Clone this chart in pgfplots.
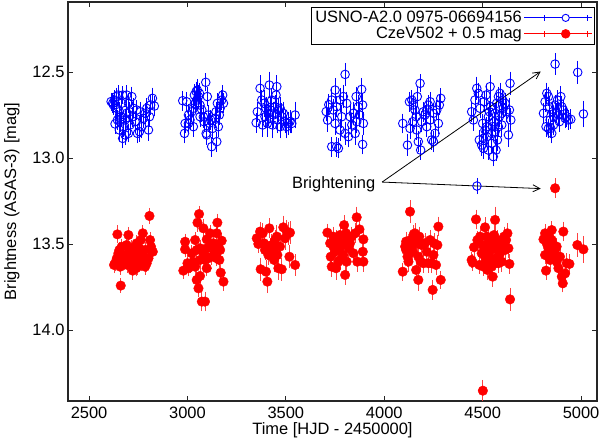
\documentclass[border=0pt]{standalone}
\usepackage{fontspec}
\setmainfont{Liberation Sans}
\usepackage{pgfplots}
\pgfplotsset{compat=1.18}
\usetikzlibrary{arrows.meta}
\newcommand{\chfont}{\fontsize{16.5}{19}\selectfont}
\begin{document}
\begin{tikzpicture}
\begin{axis}[
  at={(0,0)}, anchor=south west,
  scale only axis, width=529bp, height=399bp,
  xmin=2393, xmax=5081, ymin=12.093, ymax=14.413, y dir=reverse,
  xtick={2500,3000,3500,4000,4500,5000},
  ytick={12.5,13,13.5,14},
  xtick pos=both, ytick pos=both, tick align=inside,
  major tick length=5bp,
  axis line style={line width=1.2bp, black!85},
  every tick/.style={line width=0.8bp, black!85},
  /pgf/number format/assume math mode=true,
  /pgf/number format/1000 sep={},
  scaled x ticks=false,
  tick label style={font=\chfont},
  xticklabel style={yshift=-2bp},
  yticklabel style={/pgf/number format/.cd, fixed, fixed zerofill, precision=1},
  xlabel={Time [HJD - 2450000]},
  ylabel={Brightness (ASAS-3) [mag]},
  xlabel style={font=\chfont, at={(axis description cs:0.5,0)}, anchor=north, yshift=-21bp, inner sep=0pt},
  ylabel style={font=\chfont, at={(axis description cs:-0.106,0.5)}, anchor=center, inner sep=0pt},
  legend style={at={(rel axis cs:1,1)}, anchor=north east, xshift=-2bp, yshift=-5bp,
    draw=black, line width=0.8bp, font=\chfont, row sep=-1bp, inner sep=2bp},
  legend cell align=right,
  legend plot pos=right,
]
\addplot[blue, only marks, mark=o, mark size=4.3bp, mark options={line width=0.9bp},
  legend image code/.code={
    \path (0bp,0bp) -- (68bp,0bp);
    \draw[overlay, blue, line width=0.9bp] (20bp,0bp) -- (63bp,0bp) (20bp,-3bp) -- (20bp,3bp) (63bp,-3bp) -- (63bp,3bp);
    \draw[overlay, blue, line width=0.9bp, fill=white] (41.5bp,0bp) circle (3.6bp);
  },
  error bars/.cd, y dir=both, y explicit,
  error bar style={blue, line width=0.9bp},
  error mark options={blue, mark size=3bp, line width=0.9bp}]
table[x index=0, y index=1, y error index=2] {
2612 12.672 0.035
2620 12.682 0.04
2629 12.663 0.04
2637 12.643 0.035
2649 12.634 0.04
2666 12.682 0.04
2671 12.634 0.035
2691 12.634 0.04
2700 12.682 0.04
2717 12.643 0.04
2624 12.692 0.04
2641 12.711 0.045
2654 12.731 0.04
2663 12.760 0.04
2632 12.802 0.04
2644 12.779 0.04
2654 12.837 0.045
2671 12.886 0.04
2683 12.866 0.04
2700 12.857 0.035
2708 12.808 0.04
2722 12.760 0.04
2734 12.789 0.045
2746 12.857 0.04
2756 12.847 0.04
2768 12.818 0.05
2776 12.769 0.04
2785 12.740 0.045
2793 12.711 0.04
2802 12.837 0.045
2807 12.760 0.04
2813 12.692 0.04
2822 12.653 0.045
2832 12.698 0.04
2759 12.731 0.04
2742 12.721 0.04
2725 12.711 0.04
2691 12.740 0.04
2683 12.779 0.04
2705 12.731 0.04
2675 12.818 0.04
2658 12.789 0.04
2976 12.667 0.04
2985 12.857 0.04
2988 12.799 0.04
2996 12.673 0.04
3005 12.750 0.045
3013 12.779 0.04
3022 12.731 0.04
3030 12.711 0.04
3039 12.682 0.04
3035 12.634 0.045
3044 12.614 0.04
3050 12.605 0.045
3056 12.643 0.05
3061 12.624 0.04
3064 12.692 0.05
3073 12.721 0.05
3081 12.760 0.05
3084 12.789 0.04
3093 12.560 0.035
3095 12.857 0.04
3098 12.866 0.04
3101 12.643 0.04
3106 12.750 0.04
3111 12.798 0.04
3118 12.779 0.04
3123 12.934 0.04
3128 12.828 0.045
3140 12.769 0.04
3145 12.731 0.04
3149 12.905 0.04
3152 12.682 0.04
3157 12.818 0.045
3162 12.750 0.04
3166 12.711 0.04
3174 12.663 0.04
3179 12.634 0.04
3183 12.682 0.04
3047 12.663 0.04
3064 12.760 0.045
3030 12.818 0.04
3005 12.799 0.04
3349 12.795 0.04
3355 12.731 0.04
3369 12.595 0.06
3377 12.663 0.04
3382 12.808 0.05
3389 12.682 0.06
3399 12.711 0.05
3406 12.799 0.06
3416 12.576 0.06
3423 12.721 0.06
3433 12.808 0.06
3437 12.750 0.06
3445 12.702 0.05
3450 12.634 0.06
3454 12.585 0.05
3457 12.779 0.06
3462 12.721 0.05
3471 12.818 0.05
3479 12.760 0.06
3487 12.740 0.05
3496 12.789 0.05
3504 12.818 0.05
3513 12.799 0.05
3521 12.789 0.05
3530 12.799 0.04
3547 12.750 0.06
3394 12.760 0.05
3411 12.740 0.05
3428 12.663 0.05
3471 12.711 0.05
3705 12.730 0.04
3712 12.780 0.05
3718 12.690 0.045
3801 12.514 0.05
3750 12.605 0.05
3758 12.934 0.04
3733 12.934 0.04
3767 12.944 0.04
3775 12.663 0.05
3792 12.643 0.05
3809 12.682 0.05
3818 12.876 0.045
3826 12.760 0.05
3843 12.740 0.05
3857 12.643 0.04
3868 12.702 0.05
3885 12.601 0.05
3890 12.692 0.05
3894 12.799 0.05
3890 12.921 0.04
3801 12.857 0.05
3784 12.760 0.05
3741 12.721 0.045
3750 12.799 0.05
3835 12.808 0.05
3860 12.789 0.05
3874 12.750 0.05
3852 12.857 0.05
3775 12.837 0.045
3733 12.663 0.045
3758 12.702 0.045
4094 12.799 0.04
4118 12.925 0.045
4128 12.673 0.04
4131 12.828 0.045
4140 12.663 0.04
4148 12.692 0.04
4156 12.721 0.04
4162 12.760 0.04
4168 12.643 0.045
4173 12.905 0.045
4182 12.566 0.035
4185 12.954 0.04
4190 12.789 0.045
4199 12.731 0.04
4207 12.750 0.04
4216 12.721 0.04
4224 12.692 0.04
4233 12.673 0.04
4241 12.895 0.04
4250 12.905 0.045
4258 12.857 0.04
4267 12.721 0.04
4275 12.799 0.045
4280 12.692 0.04
4287 12.653 0.04
4145 12.789 0.04
4165 12.837 0.04
4216 12.818 0.04
4233 12.779 0.04
4250 12.740 0.04
4444 12.731 0.04
4453 12.779 0.045
4461 12.663 0.04
4470 12.595 0.05
4478 12.624 0.045
4483 12.895 0.04
4487 12.711 0.04
4495 12.925 0.045
4500 12.799 0.04
4504 12.944 0.045
4507 12.673 0.04
4512 12.837 0.04
4517 12.634 0.045
4521 12.876 0.04
4529 12.760 0.04
4534 12.731 0.045
4538 12.585 0.05
4541 12.702 0.04
4546 12.857 0.04
4551 12.818 0.045
4554 12.992 0.04
4558 12.789 0.04
4563 12.740 0.04
4568 12.954 0.045
4571 12.682 0.04
4575 12.895 0.045
4580 12.643 0.04
4585 12.760 0.04
4588 12.624 0.045
4597 12.808 0.05
4602 12.663 0.04
4605 12.711 0.04
4614 12.682 0.045
4622 12.731 0.04
4631 12.866 0.05
4636 12.721 0.05
4639 12.566 0.05
4643 12.779 0.05
4521 12.818 0.04
4529 12.954 0.04
4546 12.915 0.04
4563 12.847 0.04
4580 12.818 0.04
4597 12.740 0.04
4504 12.886 0.04
4471 13.163 0.03
4868 12.454 0.045
4983 12.502 0.05
5012 12.744 0.06
4817 12.673 0.04
4826 12.624 0.045
4834 12.643 0.04
4839 12.702 0.04
4843 12.779 0.04
4846 12.828 0.04
4851 12.857 0.04
4856 12.731 0.04
4860 12.760 0.04
4868 12.692 0.04
4876 12.740 0.04
4880 12.663 0.04
4890 12.789 0.04
4897 12.643 0.045
4902 12.702 0.045
4910 12.721 0.04
4919 12.769 0.04
4927 12.760 0.04
4936 12.779 0.04
4948 12.775 0.04
4809 12.740 0.04
4822 12.818 0.04
4834 12.828 0.04
4860 12.808 0.04
4885 12.750 0.04
};
\addlegendentry{USNO-A2.0 0975-06694156}
\addplot[red, only marks, mark=*, mark size=4.8bp,
  legend image code/.code={
    \path (0bp,0bp) -- (68bp,0bp);
    \draw[overlay, red, line width=0.9bp] (20bp,0bp) -- (63bp,0bp) (20bp,-3bp) -- (20bp,3bp) (63bp,-3bp) -- (63bp,3bp);
    \fill[overlay, red] (41.5bp,0bp) circle (4.3bp);
  },
  error bars/.cd, y dir=both, y explicit,
  error bar style={red!75, line width=0.9bp},
  error mark options={red!75, mark size=3bp, line width=0.9bp}]
table[x index=0, y index=1, y error index=2] {
2807 13.337 0.03
2644 13.444 0.035
2661 13.742 0.025
2632 13.612 0.03
2627 13.622 0.03
2641 13.583 0.03
2649 13.554 0.03
2654 13.535 0.03
2666 13.516 0.03
2675 13.564 0.03
2683 13.593 0.03
2691 13.506 0.03
2700 13.448 0.03
2705 13.535 0.03
2712 13.574 0.03
2717 13.525 0.03
2722 13.655 0.035
2725 13.612 0.03
2734 13.554 0.03
2742 13.496 0.03
2746 13.632 0.03
2751 13.583 0.03
2756 13.525 0.03
2763 13.477 0.03
2768 13.612 0.03
2773 13.438 0.03
2776 13.574 0.03
2785 13.535 0.03
2793 13.612 0.035
2802 13.583 0.03
2810 13.477 0.03
2815 13.516 0.03
2824 13.545 0.03
2658 13.632 0.03
2678 13.603 0.03
2695 13.622 0.03
2739 13.641 0.03
2785 13.632 0.03
2759 13.564 0.03
3059 13.326 0.03
3051 13.376 0.035
3152 13.376 0.035
2988 13.487 0.03
2988 13.531 0.03
3081 13.409 0.035
3039 13.477 0.03
3098 13.473 0.03
3115 13.438 0.03
3149 13.438 0.03
3174 13.481 0.03
3022 13.554 0.03
3047 13.535 0.03
3064 13.525 0.03
3081 13.554 0.03
3098 13.525 0.03
3115 13.506 0.03
3132 13.496 0.03
3140 13.545 0.03
3157 13.506 0.03
3166 13.535 0.03
3000 13.612 0.03
3013 13.622 0.03
2979 13.655 0.03
3030 13.603 0.03
3064 13.593 0.03
3089 13.593 0.03
3106 13.583 0.03
3123 13.574 0.03
3149 13.583 0.03
3162 13.593 0.03
3047 13.709 0.035
3064 13.686 0.035
3056 13.758 0.03
3073 13.835 0.04
3089 13.835 0.04
3169 13.667 0.03
3183 13.719 0.035
3039 13.632 0.03
3005 13.641 0.03
3098 13.641 0.03
3352 13.467 0.035
3360 13.500 0.035
3372 13.647 0.05
3382 13.438 0.04
3389 13.496 0.05
3399 13.661 0.05
3406 13.719 0.05
3416 13.409 0.04
3420 13.525 0.04
3428 13.506 0.045
3437 13.545 0.04
3440 13.593 0.05
3445 13.477 0.04
3454 13.457 0.05
3457 13.564 0.05
3462 13.641 0.05
3470 13.515 0.04
3479 13.647 0.05
3487 13.403 0.05
3496 13.467 0.05
3504 13.428 0.05
3513 13.438 0.05
3518 13.574 0.05
3521 13.434 0.05
3547 13.622 0.045
3369 13.428 0.04
3411 13.564 0.04
3394 13.535 0.04
3711 13.434 0.035
3725 13.496 0.035
3728 13.574 0.04
3733 13.632 0.04
3741 13.457 0.04
3750 13.545 0.04
3755 13.641 0.05
3758 13.477 0.04
3767 13.603 0.04
3772 13.525 0.04
3775 13.448 0.04
3784 13.496 0.04
3792 13.564 0.04
3796 13.390 0.04
3801 13.680 0.04
3806 13.438 0.04
3809 13.603 0.04
3818 13.525 0.04
3826 13.496 0.04
3835 13.457 0.04
3843 13.554 0.04
3852 13.438 0.04
3860 13.345 0.045
3863 13.603 0.04
3874 13.415 0.04
3891 13.545 0.04
3894 13.473 0.04
3894 13.603 0.04
3741 13.515 0.04
3775 13.593 0.04
3809 13.477 0.04
4131 13.312 0.05
4094 13.661 0.035
4106 13.515 0.04
4111 13.535 0.04
4118 13.574 0.04
4123 13.603 0.04
4128 13.506 0.04
4134 13.477 0.04
4140 13.525 0.04
4148 13.448 0.04
4156 13.438 0.04
4162 13.651 0.04
4168 13.496 0.04
4173 13.709 0.045
4178 13.457 0.04
4185 13.603 0.04
4190 13.506 0.04
4199 13.612 0.04
4207 13.496 0.04
4216 13.545 0.04
4224 13.612 0.04
4233 13.477 0.04
4241 13.612 0.04
4246 13.767 0.04
4253 13.496 0.04
4263 13.622 0.04
4270 13.506 0.04
4275 13.399 0.04
4287 13.709 0.035
4145 13.545 0.04
4173 13.574 0.04
4250 13.564 0.04
4111 13.486 0.04
4639 13.822 0.05
4444 13.593 0.03
4449 13.608 0.03
4456 13.519 0.035
4466 13.357 0.04
4473 13.477 0.035
4483 13.622 0.035
4487 13.457 0.035
4495 13.554 0.04
4500 13.506 0.035
4507 13.564 0.035
4512 13.403 0.04
4517 13.593 0.035
4521 13.525 0.04
4524 13.651 0.04
4529 13.574 0.035
4534 13.545 0.04
4538 13.612 0.04
4541 13.486 0.04
4546 13.632 0.04
4551 13.690 0.04
4554 13.525 0.04
4558 13.448 0.04
4563 13.360 0.06
4568 13.583 0.04
4571 13.506 0.04
4575 13.477 0.04
4580 13.545 0.04
4585 13.564 0.04
4592 13.506 0.04
4597 13.603 0.04
4602 13.525 0.04
4609 13.457 0.04
4614 13.535 0.04
4619 13.477 0.04
4626 13.438 0.04
4631 13.525 0.04
4636 13.616 0.04
4504 13.632 0.035
4529 13.467 0.035
4554 13.593 0.04
4580 13.612 0.04
4521 13.457 0.04
4501 14.353 0.045
4868 13.176 0.04
4809 13.473 0.035
4817 13.564 0.035
4822 13.655 0.035
4825 13.496 0.035
4834 13.525 0.035
4839 13.457 0.035
4843 13.593 0.035
4851 13.419 0.035
4856 13.554 0.035
4859 13.506 0.035
4863 13.583 0.035
4868 13.535 0.035
4876 13.603 0.035
4885 13.641 0.035
4893 13.574 0.035
4902 13.690 0.035
4907 13.729 0.035
4910 13.428 0.04
4919 13.671 0.035
4927 13.612 0.04
4941 13.616 0.04
4981 13.506 0.05
5012 13.531 0.06
4817 13.438 0.035
4851 13.477 0.035
4876 13.515 0.035
};
\addlegendentry{CzeV502 + 0.5 mag}
\draw[-{Straight Barb[length=7bp,width=7bp]}, line width=0.8bp, black]
  (axis cs:3989,13.140) -- (axis cs:4795,12.497);
\draw[-{Straight Barb[length=7bp,width=7bp]}, line width=0.8bp, black]
  (axis cs:3989,13.140) -- (axis cs:4795,13.178);
\node[anchor=east, inner sep=0pt, font=\chfont] at (axis cs:3955,13.155) {Brightening};
\end{axis}
\pgfresetboundingbox
\path (-68bp,-41bp) rectangle (531bp,401bp);
\end{tikzpicture}
\end{document}
